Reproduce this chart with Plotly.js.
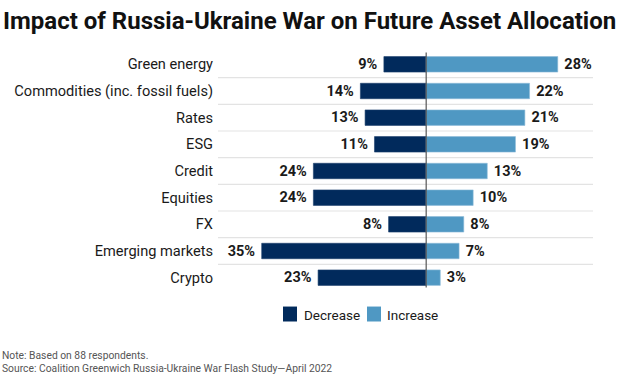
<!DOCTYPE html>
<html><head><meta charset="utf-8">
<script src="https://cdn.plot.ly/plotly-3.0.1.min.js"></script>
<style>html,body{margin:0;padding:0;background:#fff}#c{width:620px;height:388px}</style>
</head><body><div id="c"></div>
<script>
const categories = ["Green energy","Commodities (inc. fossil fuels)","Rates","ESG","Credit","Equities","FX","Emerging markets","Crypto"];
const decrease = [9,14,13,11,24,24,8,35,23];
const increase = [28,22,21,19,13,10,8,7,3];
const seriesNames = ["Decrease","Increase"];
const seriesColors = ["#012a5c","#4f98c3"];

const W=620,H=388,L=218,R=27,T=50.6,B=96.6;
const pw=W-L-R, ph=H-T-B;
const px=(x)=> (x-L)/pw;
const py=(y)=> (H-B-y)/ph;
const FONT="Roboto, 'Noto Sans', sans-serif";

const traces=[
 {type:'bar',orientation:'h',name:seriesNames[0],y:categories,x:decrease.map(v=>-v),
  text:decrease.map(v=>'<b>'+v+'% </b>'),textposition:'outside',cliponaxis:false,constraintext:'none',
  textfont:{family:FONT,size:14.5,color:'#1a1a1a'},
  marker:{color:seriesColors[0],line:{color:'#1d3f6b',width:0.6}},width:0.58,hoverinfo:'skip'},
 {type:'bar',orientation:'h',name:seriesNames[1],y:categories,x:increase,
  text:increase.map(v=>'<b> '+v+'%</b>'),textposition:'outside',cliponaxis:false,constraintext:'none',
  textfont:{family:FONT,size:14.5,color:'#1a1a1a'},
  marker:{color:seriesColors[1],line:{color:'#8dbbd8',width:0.6}},width:0.58,hoverinfo:'skip'}
];

const shapes=[];
for(let i=0;i<categories.length-1;i++){
  shapes.push({type:'line',xref:'paper',yref:'y',x0:0,x1:1,y0:i+0.5,y1:i+0.5,line:{color:'#e3e3e3',width:1.2},layer:'below'});
}
shapes.push({type:'line',xref:'x',yref:'paper',x0:0,x1:0,y0:py(288),y1:py(52),line:{color:'#555555',width:1.2}});

// manual legend
const legX=[283,367], legTextX=[302,385];
const annotations=[];
seriesNames.forEach((n,i)=>{
  shapes.push({type:'rect',xref:'paper',yref:'paper',x0:px(legX[i]),x1:px(legX[i]+14),y0:py(322),y1:py(307),
    fillcolor:seriesColors[i],line:{width:0}});
  annotations.push({xref:'paper',yref:'paper',x:px(legTextX[i]),y:py(315),xanchor:'left',yanchor:'middle',showarrow:false,
    text:n,font:{family:FONT,size:13.5,color:'#1a1a1a'}});
});
annotations.push(
  {xref:'paper',yref:'paper',x:px(0),y:py(356),xanchor:'left',yanchor:'middle',showarrow:false,
   text:'Note: Based on 88 respondents.',font:{family:FONT,size:10.3,color:'#555'}},
  {xref:'paper',yref:'paper',x:px(0),y:py(369),xanchor:'left',yanchor:'middle',showarrow:false,
   text:'Source: Coalition Greenwich Russia-Ukraine War Flash Study\u2014April 2022',font:{family:FONT,size:10.3,color:'#555'}}
);

const layout={
 width:W,height:H,margin:{l:L,r:R,t:T,b:B},
 paper_bgcolor:'#fff',plot_bgcolor:'#fff',
 barmode:'relative',
 showlegend:false,
 title:{text:'<b>Impact of Russia-Ukraine War on Future Asset Allocation</b>',
   font:{family:FONT,size:24,color:'#111'},x:3/W,xanchor:'left',xref:'container',
   y:(H-21)/H,yanchor:'middle',yref:'container'},
 xaxis:{range:[-44.3,35.5],showgrid:false,zeroline:false,showticklabels:false,ticks:'',fixedrange:true},
 yaxis:{type:'category',autorange:'reversed',showgrid:false,zeroline:false,ticks:'',
   tickfont:{family:FONT,size:14.6,color:'#1a1a1a'},ticklabelstandoff:4},
 shapes:shapes,
 annotations:annotations
};
Plotly.newPlot('c',traces,layout,{displayModeBar:false,staticPlot:true});
</script></body></html>
